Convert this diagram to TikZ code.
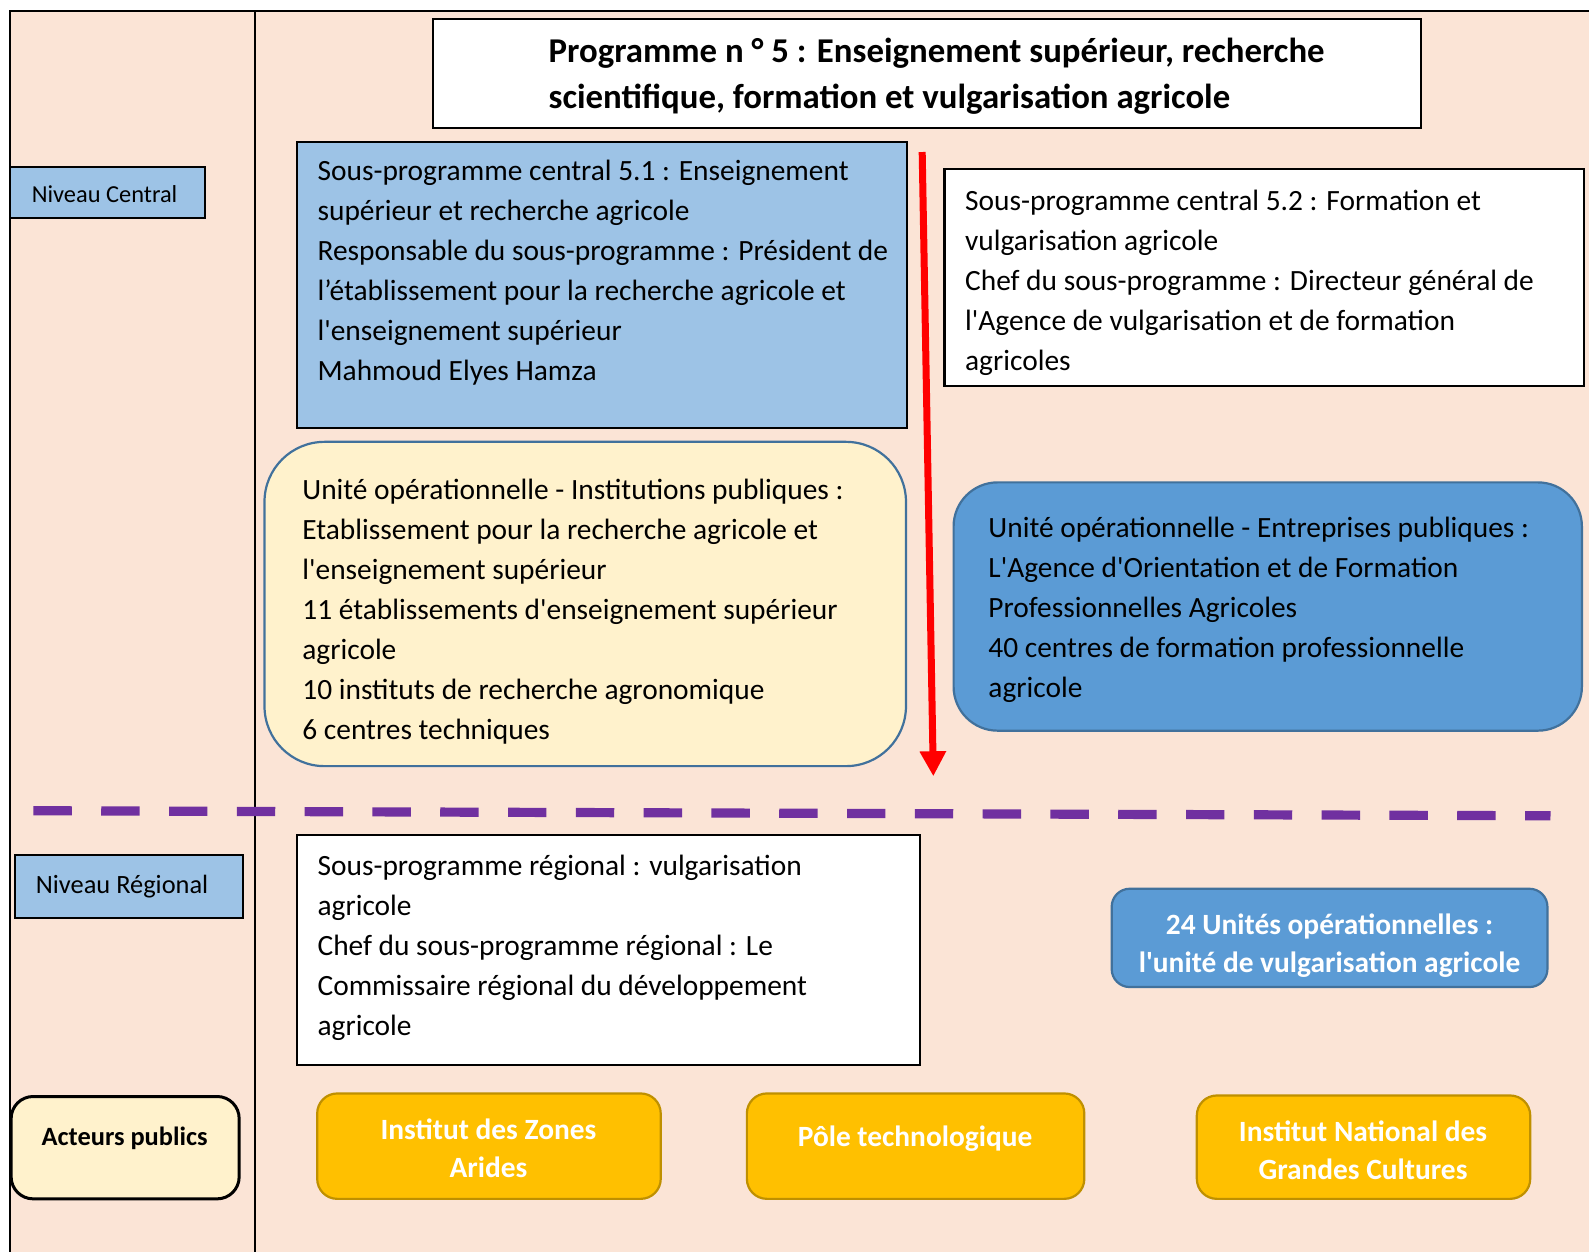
\documentclass[tikz,border=0pt]{standalone}
\usepackage{fontspec}
\setmainfont{Carlito}
\newfontfamily\carl{Carlito}
\usetikzlibrary{arrows.meta,fit}
\definecolor{peach}{HTML}{FBE4D6}
\definecolor{lblue}{HTML}{9DC3E6}
\definecolor{mblue}{HTML}{5B9BD5}
\definecolor{dblue}{HTML}{41719C}
\definecolor{cream}{HTML}{FFF2CC}
\definecolor{gold}{HTML}{FFC000}
\definecolor{dgold}{HTML}{BF9000}
\definecolor{purp}{HTML}{7030A0}
\begin{document}
\begin{tikzpicture}[x=.5067pt,y=-.5067pt,
rect/.style={draw,line width=1.1pt,fill=white,inner sep=0pt},
bluerect/.style={rect,fill=lblue},
roundcream/.style={draw=dblue,line width=1.1pt,fill=cream,inner sep=0pt,rounded corners=30pt},
roundblue/.style={draw=dblue,line width=1.1pt,fill=mblue,inner sep=0pt,rounded corners=22pt},
goldbox/.style={draw=dgold,line width=1.1pt,fill=gold,inner sep=0pt,rounded corners=10pt},
txt/.style={inner sep=0pt,anchor=west,align=left,font=\carl\fontsize{14.7}{20}\selectfont},
wtxt/.style={inner sep=0pt,align=center,text=white,font=\carl\bfseries\fontsize{14.7}{19.3}\selectfont}]
\useasboundingbox (0,0) rectangle (1568,1235.5);
\fill[peach] (10,11) rectangle (1568,1235.5);
\draw[line width=1pt] (1568,11) -- (10,11) -- (10,1235.5);
\draw[line width=1pt] (252,11) -- (252,1235.5);

\node[rect,fit={(427,19) (1402,126)}] (titlebox) {};
\node[txt,font=\carl\bfseries\fontsize{17.4}{22.8}\selectfont] (titletxt) at (541,75.5) {Programme n ° 5 : Enseignement supérieur, recherche\\scientifique, formation et vulgarisation agricole};

\node[bluerect,fit={(10,165) (202,215)}] (central) {};
\node[txt,font=\carl\fontsize{12.2}{14}\selectfont] (centraltxt) at (31,192) {Niveau Central};

\node[bluerect,fit={(293,140) (895,422)}] (sp51) {};
\node[txt] (sp51txt) at (313,269.5) {Sous-programme central 5.1 : Enseignement\\supérieur et recherche agricole\\Responsable du sous-programme : Président de\\l’établissement pour la recherche agricole et\\l'enseignement supérieur\\Mahmoud Elyes Hamza};

\node[rect,fit={(932,167) (1563,381)}] (sp52) {};
\node[txt] (sp52txt) at (952,279) {Sous-programme central 5.2 : Formation et\\vulgarisation agricole\\Chef du sous-programme : Directeur général de\\l'Agence de vulgarisation et de formation\\agricoles};

\node[roundcream,fit={(261,436) (894,756)}] (uoinst) {};
\node[txt] (uoinsttxt) at (298,604) {Unité opérationnelle - Institutions publiques :\\Etablissement pour la recherche agricole et\\l'enseignement supérieur\\11 établissements d'enseignement supérieur\\agricole\\10 instituts de recherche agronomique\\6 centres techniques};

\node[roundblue,fit={(941,476) (1561,721)}] (uoent) {};
\node[txt] (uoenttxt) at (975,602) {Unité opérationnelle - Entreprises publiques :\\L'Agence d'Orientation et de Formation\\Professionnelles Agricoles\\40 centres de formation professionnelle\\agricole};

\coordinate (arrtop) at (910,150);
\coordinate (arrbot) at (921,766);
\draw[red,line width=3.5pt,-{Triangle[width=12.5pt,length=12.5pt]}] (arrtop) -- (arrbot);

\coordinate (sepl) at (33,800);
\coordinate (sepr) at (1530,805);
\draw[purp,line width=4.6pt,dash pattern=on 19.2pt off 14.7pt] (sepl) -- (sepr);

\node[bluerect,fit={(15,844) (240,906)}] (regional) {};
\node[txt,font=\carl\fontsize{13.2}{15}\selectfont] (regionaltxt) at (35,875) {Niveau Régional};

\node[rect,fit={(293,824) (908,1051)}] (spreg) {};
\node[txt] (spregtxt) at (313,935) {Sous-programme régional : vulgarisation\\agricole\\Chef du sous-programme régional : Le\\Commissaire régional du développement\\agricole};

\node[roundblue,rounded corners=9pt,fit={(1097,877) (1527,974)}] (unites) {};
\node[wtxt] (unitestxt) at (1312,933) {24 Unités opérationnelles :\\l'unité de vulgarisation agricole};

\node[rect,fill=cream,line width=1.5pt,rounded corners=11pt,fit={(11,1082) (236,1183)}] (acteurs) {};
\node[wtxt,text=black,font=\carl\bfseries\fontsize{13.2}{15}\selectfont] (acteurstxt) at (123,1123) {Acteurs publics};

\node[goldbox,fit={(313,1079) (652,1183)}] (iza) {};
\node[wtxt] (izatxt) at (482,1133) {Institut des Zones\\Arides};

\node[goldbox,fit={(737,1079) (1070,1183)}] (pole) {};
\node[wtxt] (poletxt) at (903,1124) {Pôle technologique};

\node[goldbox,fit={(1181,1081) (1510,1183)}] (ingc) {};
\node[wtxt] (ingctxt) at (1345,1135) {Institut National des\\Grandes Cultures};
\end{tikzpicture}
\end{document}
